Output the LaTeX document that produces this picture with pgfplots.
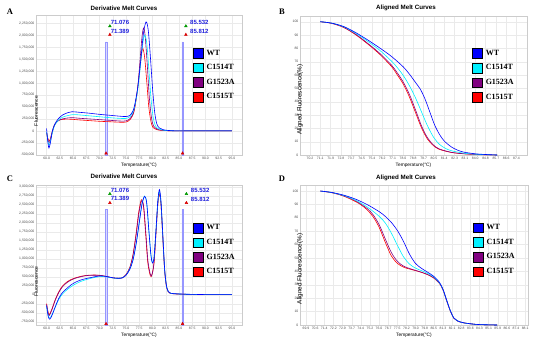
\documentclass[border=0pt]{standalone}
\usepackage{fontspec}
\setmainfont{Liberation Serif}
\setsansfont{Liberation Sans}
\usepackage{pgfplots}
\pgfplotsset{compat=1.18}
\definecolor{cWT}{RGB}{0,0,255}
\definecolor{cCa}{RGB}{0,240,255}
\definecolor{cG}{RGB}{128,0,128}
\definecolor{cCb}{RGB}{255,0,0}
\definecolor{gridc}{RGB}{234,234,234}
\definecolor{barc}{RGB}{150,150,255}
\definecolor{labc}{RGB}{30,30,220}

\pgfplotsset{
  melt/.style={
    scale only axis,
    axis line style={draw=gray!40, line width=0.4pt},
    grid=major,
    major grid style={draw=gridc, line width=0.3pt},
    major tick length=0pt,
    tick style={draw=none},
    tick label style={font=\sffamily\fontsize{3.4}{4}\selectfont, text=black!70, inner sep=1.5pt},
    /pgf/number format/assume math mode=true,
    xlabel={Temperature(°C)},
    every axis x label/.style={at={(axis description cs:0.5,0)}, anchor=center, yshift=-10pt, font=\sffamily\fontsize{4.8}{5}\selectfont},
    legend image code/.code={\fill[##1] (0pt,-4.8pt) rectangle (9.6pt,4.8pt);},
    legend style={draw=none, fill=none, anchor=north west,
      font=\rmfamily\bfseries\fontsize{8}{9}\selectfont,
      row sep=4.6pt, inner sep=0pt, nodes={inner sep=1pt, anchor=west},
      /tikz/every odd column/.append style={column sep=2.5pt}},
    legend cell align=left,
  },
  deriv/.style={melt,
    xmin=58, xmax=96.9, xtick={60,62.5,...,95},
    xticklabel style={/pgf/number format/.cd, fixed, fixed zerofill, precision=1},
    yticklabel style={/pgf/number format/.cd, fixed, 1000 sep={,}, precision=0},
    scaled y ticks=false, ylabel={Fluorescence},
    every axis y label/.style={at={(axis description cs:0,0.5)}, rotate=90, anchor=center, xshift=-26pt, font=\sffamily\fontsize{5}{5}\selectfont},
  },
  aligned/.style={melt,
    ymin=0, ymax=104.3, ytick={0,10,...,100},
    xticklabel style={/pgf/number format/.cd, fixed, fixed zerofill, precision=1},
    ylabel={Aligned Fluorescence(\%)},
    every axis y label/.style={at={(axis description cs:0,0.5)}, rotate=90, anchor=center, xshift=-14pt, font=\sffamily\fontsize{6.3}{6.3}\selectfont},
  },
  curve/.style={line width=0.6pt, smooth, no markers, forget plot},
}

\begin{document}
\begin{tikzpicture}
\useasboundingbox (0,0) rectangle (554pt,349pt);

% ---------------- A ----------------
\begin{axis}[deriv, at={(36pt,194pt)}, anchor=south west, width=206pt, height=140pt,
  ymin=-505000, ymax=2423000, ytick={-500000,-250000,...,2250000},
  legend style={at={(0.762,0.764)}}, clip=false]
\addplot[forget plot, draw=barc, fill=barc!35, line width=0.5pt] coordinates {(71.076,-505000) (71.076,1860000) (71.389,1860000) (71.389,-505000) (71.076,-505000)};
\addplot[forget plot, draw=barc, fill=barc!35, line width=0.5pt] coordinates {(85.532,-505000) (85.532,1860000) (85.812,1860000) (85.812,-505000) (85.532,-505000)};
\addplot[forget plot, draw=barc, line width=1pt] coordinates {(85.812,0) (95,0)};
\addplot[curve, cCb] coordinates {(60.0,-50000) (60.3,-180000) (60.6,-200000) (61.0,-60000) (61.5,120000) (62.2,215000) (63.0,240000) (64.0,245000) (65.0,240000) (66.0,230000) (68.0,215000) (70.0,200000) (72.0,190000) (74.0,180000) (75.0,185000) (75.8,240000) (76.5,400000) (77.1,800000) (77.6,1300000) (78.1,1720000) (78.5,1550000) (78.9,1050000) (79.3,500000) (79.7,200000) (80.1,70000) (81.0,20000) (82.0,8000) (83.0,2000) (85.0,0) (95.0,0)};
\addplot[curve, cG] coordinates {(60.0,-30000) (60.3,-200000) (60.55,-240000) (61.0,-40000) (61.5,130000) (62.2,210000) (63.0,250000) (64.0,270000) (65.0,275000) (66.0,265000) (68.0,250000) (70.0,235000) (72.0,220000) (74.0,205000) (75.0,210000) (75.8,260000) (76.5,420000) (77.2,900000) (77.7,1550000) (78.0,1950000) (78.3,2150000) (78.6,2000000) (79.0,1400000) (79.4,700000) (79.8,280000) (80.2,100000) (81.0,30000) (82.0,10000) (83.0,3000) (85.0,0) (95.0,0)};
\addplot[curve, cCa] coordinates {(60.0,-20000) (60.3,-250000) (60.55,-290000) (61.0,-80000) (61.5,110000) (62.2,220000) (63.0,285000) (64.0,320000) (65.0,340000) (66.0,335000) (68.0,315000) (70.0,295000) (72.0,275000) (74.0,260000) (75.0,260000) (75.8,300000) (76.5,450000) (77.2,850000) (77.8,1450000) (78.2,1850000) (78.5,2000000) (78.9,1850000) (79.3,1300000) (79.7,700000) (80.1,300000) (80.5,120000) (81.0,50000) (82.0,15000) (83.0,5000) (84.0,1000) (85.0,0) (95.0,0)};
\addplot[curve, cWT] coordinates {(60.0,50000) (60.2,-200000) (60.45,-360000) (60.8,-200000) (61.1,0) (61.6,150000) (62.2,250000) (63.0,330000) (64.0,380000) (64.8,400000) (66.0,390000) (68.0,370000) (70.0,345000) (72.0,325000) (74.0,305000) (75.0,300000) (75.8,330000) (76.5,480000) (77.2,900000) (77.8,1500000) (78.3,2050000) (78.8,2280000) (79.2,2100000) (79.6,1550000) (80.0,900000) (80.4,400000) (80.8,150000) (81.3,60000) (82.0,25000) (83.0,8000) (84.0,2000) (85.0,0) (95.0,0)};
\addplot[forget plot, only marks, mark=triangle*, mark size=1.6pt, color=green!60!black] coordinates {(71.95,2190000) (86.3,2190000)};
\addplot[forget plot, only marks, mark=triangle*, mark size=1.6pt, color=red!85!black] coordinates {(71.95,2010000) (86.3,2010000) (71.23,-470000) (85.67,-470000)};
\node[font=\sffamily\bfseries\fontsize{6}{6}\selectfont, text=labc] at (axis cs:73.85,2265000) {71.076};
\node[font=\sffamily\bfseries\fontsize{6}{6}\selectfont, text=labc] at (axis cs:73.85,2075000) {71.389};
\node[font=\sffamily\bfseries\fontsize{6}{6}\selectfont, text=labc] at (axis cs:88.85,2265000) {85.532};
\node[font=\sffamily\bfseries\fontsize{6}{6}\selectfont, text=labc] at (axis cs:88.85,2075000) {85.812};
\addlegendimage{fill=cWT}\addlegendentry{WT}
\addlegendimage{fill=cCa}\addlegendentry{C1514T}
\addlegendimage{fill=cG}\addlegendentry{G1523A}
\addlegendimage{fill=cCb}\addlegendentry{C1515T}
\end{axis}

% ---------------- B ----------------
\begin{axis}[aligned, at={(300pt,194pt)}, anchor=south west, width=227pt, height=139pt,
  xmin=69.39, xmax=88.29, xtick={70.22,71.08,...,87.5},
  legend style={at={(0.758,0.768)}}]
\addplot[curve, cCb] coordinates {(71.08,100) (72.0,98.8) (73.0,95.8) (74.0,90.4) (75.0,83.5) (76.0,75.8) (77.0,66.5) (77.5,60) (78.0,53) (78.5,43.5) (79.0,32) (79.5,20.5) (80.0,12) (80.5,7) (81.0,4.2) (82.0,1.9) (83.0,0.9) (84.0,0.4) (85.0,0.15) (85.8,0)};
\addplot[curve, cG] coordinates {(71.08,100) (72.0,98.9) (73.0,96.0) (74.0,90.8) (75.0,84) (76.0,76.5) (77.0,67.5) (77.5,61.5) (78.0,54.5) (78.5,45.5) (79.0,34) (79.5,22) (80.0,13) (80.5,7.5) (81.0,4.5) (82.0,2) (83.0,1) (84.0,0.5) (85.0,0.2) (85.8,0)};
\addplot[curve, cCa] coordinates {(71.08,100) (72.0,99.0) (73.0,96.3) (74.0,91.5) (75.0,85.5) (76.0,78.8) (77.0,70.5) (77.5,65.5) (78.0,59.5) (78.5,52) (79.0,43) (79.5,32.5) (80.0,22) (80.5,13.5) (81.0,8) (81.5,5) (82.0,3.2) (83.0,1.4) (84.0,0.6) (85.0,0.2) (85.8,0)};
\addplot[curve, cWT] coordinates {(71.08,100) (72.0,99.0) (73.0,96.5) (74.0,92.0) (75.0,86.5) (76.0,80.5) (77.0,74.0) (78.0,66.0) (78.6,59.5) (79.0,54.5) (79.4,49.5) (79.8,42) (80.25,31) (80.6,22.5) (81.0,15.5) (81.4,10.5) (82.0,6) (82.5,3.7) (83.0,2.2) (84.0,0.9) (85.0,0.3) (85.8,0)};
\addlegendimage{fill=cWT}\addlegendentry{WT}
\addlegendimage{fill=cCa}\addlegendentry{C1514T}
\addlegendimage{fill=cG}\addlegendentry{G1523A}
\addlegendimage{fill=cCb}\addlegendentry{C1515T}
\end{axis}

% ---------------- C ----------------
\begin{axis}[deriv, at={(36pt,23.5pt)}, anchor=south west, width=206pt, height=140.5pt,
  ymin=-856000, ymax=3047000, ytick={-750000,-500000,...,3000000},
  legend style={at={(0.762,0.731)}}, clip=false]
\addplot[forget plot, draw=barc, fill=barc!35, line width=0.5pt] coordinates {(71.076,-856000) (71.076,2360000) (71.389,2360000) (71.389,-856000) (71.076,-856000)};
\addplot[forget plot, draw=barc, fill=barc!35, line width=0.5pt] coordinates {(85.532,-856000) (85.532,2360000) (85.812,2360000) (85.812,-856000) (85.532,-856000)};
\addplot[curve, cCb] coordinates {(60.0,-250000) (60.3,-500000) (60.5,-560000) (61.0,-400000) (61.6,-150000) (62.3,80000) (63.0,240000) (63.8,350000) (64.6,420000) (65.5,470000) (66.5,510000) (67.5,535000) (68.5,545000) (69.5,545000) (70.5,530000) (71.5,500000) (72.5,470000) (73.5,455000) (74.3,470000) (75.0,560000) (75.7,750000) (76.3,1100000) (76.9,1700000) (77.4,2300000) (77.9,2640000) (78.3,2450000) (78.7,1700000) (79.1,900000) (79.6,520000) (79.9,560000) (80.3,900000) (80.7,1800000) (81.0,2500000) (81.3,2800000) (81.6,2500000) (81.9,1700000) (82.3,650000) (82.7,180000) (83.2,50000) (84.0,25000) (86.0,12000) (88.0,6000) (90.0,2000) (93.0,0) (95.0,0)};
\addplot[curve, cG] coordinates {(60.0,-270000) (60.3,-520000) (60.5,-580000) (61.0,-420000) (61.6,-170000) (62.3,60000) (63.0,220000) (63.8,330000) (64.6,405000) (65.5,460000) (66.5,500000) (67.5,530000) (68.5,540000) (69.5,540000) (70.5,525000) (71.5,495000) (72.5,468000) (73.5,455000) (74.3,470000) (75.0,555000) (75.7,740000) (76.3,1080000) (76.9,1650000) (77.45,2280000) (77.95,2610000) (78.35,2430000) (78.75,1700000) (79.15,920000) (79.65,540000) (79.95,580000) (80.3,920000) (80.7,1820000) (81.0,2520000) (81.3,2850000) (81.6,2520000) (81.9,1720000) (82.3,660000) (82.7,185000) (83.2,52000) (84.0,26000) (86.0,12000) (88.0,6000) (90.0,2000) (93.0,0) (95.0,0)};
\addplot[curve, cCa] coordinates {(60.0,-320000) (60.3,-580000) (60.6,-650000) (61.0,-560000) (61.6,-360000) (62.3,-130000) (63.0,20000) (63.8,130000) (64.6,220000) (65.5,300000) (66.5,370000) (67.5,420000) (68.5,460000) (69.5,490000) (70.5,505000) (71.5,490000) (72.5,465000) (73.5,455000) (74.3,470000) (75.0,545000) (75.7,710000) (76.3,970000) (76.9,1420000) (77.5,2020000) (78.0,2520000) (78.5,2740000) (78.9,2560000) (79.3,1820000) (79.7,1120000) (80.0,890000) (80.3,1060000) (80.7,1880000) (81.0,2560000) (81.3,2860000) (81.6,2560000) (81.9,1760000) (82.3,680000) (82.7,190000) (83.2,55000) (84.0,28000) (86.0,14000) (88.0,7000) (90.0,3000) (93.0,0) (95.0,0)};
\addplot[curve, cWT] coordinates {(60.0,-300000) (60.3,-600000) (60.6,-680000) (61.0,-580000) (61.6,-350000) (62.3,-100000) (63.0,60000) (63.8,170000) (64.6,270000) (65.5,350000) (66.5,410000) (67.5,450000) (68.5,480000) (69.5,510000) (70.5,520000) (71.5,500000) (72.5,470000) (73.5,455000) (74.3,470000) (75.0,540000) (75.7,700000) (76.3,950000) (76.9,1400000) (77.5,2000000) (78.0,2500000) (78.5,2730000) (78.9,2550000) (79.3,1800000) (79.7,1100000) (80.0,880000) (80.3,1050000) (80.7,1900000) (81.0,2600000) (81.3,2920000) (81.6,2600000) (81.9,1800000) (82.3,700000) (82.7,200000) (83.2,60000) (84.0,30000) (86.0,15000) (88.0,8000) (90.0,3000) (93.0,0) (95.0,0)};
\addplot[forget plot, only marks, mark=triangle*, mark size=1.6pt, color=green!60!black] coordinates {(71.95,2800000) (86.4,2800000)};
\addplot[forget plot, only marks, mark=triangle*, mark size=1.6pt, color=red!85!black] coordinates {(71.95,2550000) (86.4,2550000) (71.23,-810000) (85.67,-810000)};
\node[font=\sffamily\bfseries\fontsize{6}{6}\selectfont, text=labc] at (axis cs:73.85,2890000) {71.076};
\node[font=\sffamily\bfseries\fontsize{6}{6}\selectfont, text=labc] at (axis cs:73.85,2660000) {71.389};
\node[font=\sffamily\bfseries\fontsize{6}{6}\selectfont, text=labc] at (axis cs:89.0,2890000) {85.532};
\node[font=\sffamily\bfseries\fontsize{6}{6}\selectfont, text=labc] at (axis cs:89.0,2660000) {85.812};
\addlegendimage{fill=cWT}\addlegendentry{WT}
\addlegendimage{fill=cCa}\addlegendentry{C1514T}
\addlegendimage{fill=cG}\addlegendentry{G1523A}
\addlegendimage{fill=cCb}\addlegendentry{C1515T}
\end{axis}

% ---------------- D ----------------
\begin{axis}[aligned, at={(300pt,24pt)}, anchor=south west, width=228pt, height=140pt,
  xmin=69.39, xmax=88.37, xtick={69.89,70.65,...,88.2},
  ymax=104.5,
  legend style={at={(0.758,0.731)}}]
\addplot[curve, cCb] coordinates {(71.08,100) (72.0,98.8) (73.0,96.3) (74.0,92.2) (74.5,89.5) (75.0,85.8) (75.5,80.5) (76.0,72.5) (76.5,61.5) (77.0,51.5) (77.5,46) (78.0,43.2) (78.5,41.8) (79.0,40.6) (79.5,39.3) (80.0,37.6) (80.5,35.2) (81.0,31) (81.3,26) (81.6,18) (81.9,10.5) (82.2,5) (82.5,3) (83.0,1.6) (84.0,0.5) (85.0,0.15) (85.8,0)};
\addplot[curve, cG] coordinates {(71.08,100) (72.0,98.9) (73.0,96.5) (74.0,92.8) (75.0,86.8) (75.5,82) (76.0,74.5) (76.5,64) (77.0,54) (77.5,47.5) (78.0,44) (78.5,42.2) (79.0,40.8) (79.5,39.4) (80.0,37.8) (80.5,35.4) (81.0,31.2) (81.3,26.2) (81.6,18.2) (81.9,10.6) (82.2,5.1) (82.5,3) (83.0,1.6) (84.0,0.5) (85.0,0.15) (85.8,0)};
\addplot[curve, cCa] coordinates {(71.08,100) (72.0,98.9) (73.0,96.7) (74.0,93.2) (75.0,88) (76.0,81) (76.5,76) (77.0,68.5) (77.5,59.5) (78.0,51) (78.5,45.5) (79.0,42.5) (79.5,40.6) (80.0,38.6) (80.5,36) (81.0,31.4) (81.3,26.3) (81.6,18.3) (81.9,10.7) (82.2,5.1) (82.5,3.1) (83.0,1.6) (84.0,0.5) (85.0,0.15) (85.8,0)};
\addplot[curve, cWT] coordinates {(71.08,100) (72.0,99.0) (73.0,97.0) (74.0,94.0) (75.0,89.8) (76.0,84.5) (76.5,81) (77.0,76.5) (77.5,70.5) (78.0,62.5) (78.5,53) (79.0,46) (79.5,42.3) (80.0,39.5) (80.5,36.5) (81.0,31.8) (81.3,26.5) (81.6,18.5) (81.9,10.8) (82.2,5.2) (82.5,3.1) (83.0,1.7) (84.0,0.5) (85.0,0.15) (85.8,0)};
\addlegendimage{fill=cWT}\addlegendentry{WT}
\addlegendimage{fill=cCa}\addlegendentry{C1514T}
\addlegendimage{fill=cG}\addlegendentry{G1523A}
\addlegendimage{fill=cCb}\addlegendentry{C1515T}
\end{axis}

% ---------------- titles and panel letters ----------------
\node[font=\sffamily\bfseries\fontsize{6.2}{7}\selectfont] at (124pt,340.7pt) {Derivative Melt Curves};
\node[font=\sffamily\bfseries\fontsize{6.2}{7}\selectfont] at (406pt,341pt) {Aligned Melt Curves};
\node[font=\sffamily\bfseries\fontsize{6.2}{7}\selectfont] at (124pt,172.5pt) {Derivative Melt Curves};
\node[font=\sffamily\bfseries\fontsize{6.2}{7}\selectfont] at (406pt,171.5pt) {Aligned Melt Curves};
\node[font=\rmfamily\bfseries\fontsize{8.5}{9}\selectfont] at (10pt,337pt) {A};
\node[font=\rmfamily\bfseries\fontsize{8.5}{9}\selectfont] at (282pt,337pt) {B};
\node[font=\rmfamily\bfseries\fontsize{8.5}{9}\selectfont] at (10pt,170pt) {C};
\node[font=\rmfamily\bfseries\fontsize{8.5}{9}\selectfont] at (282pt,170pt) {D};
\end{tikzpicture}
\end{document}
